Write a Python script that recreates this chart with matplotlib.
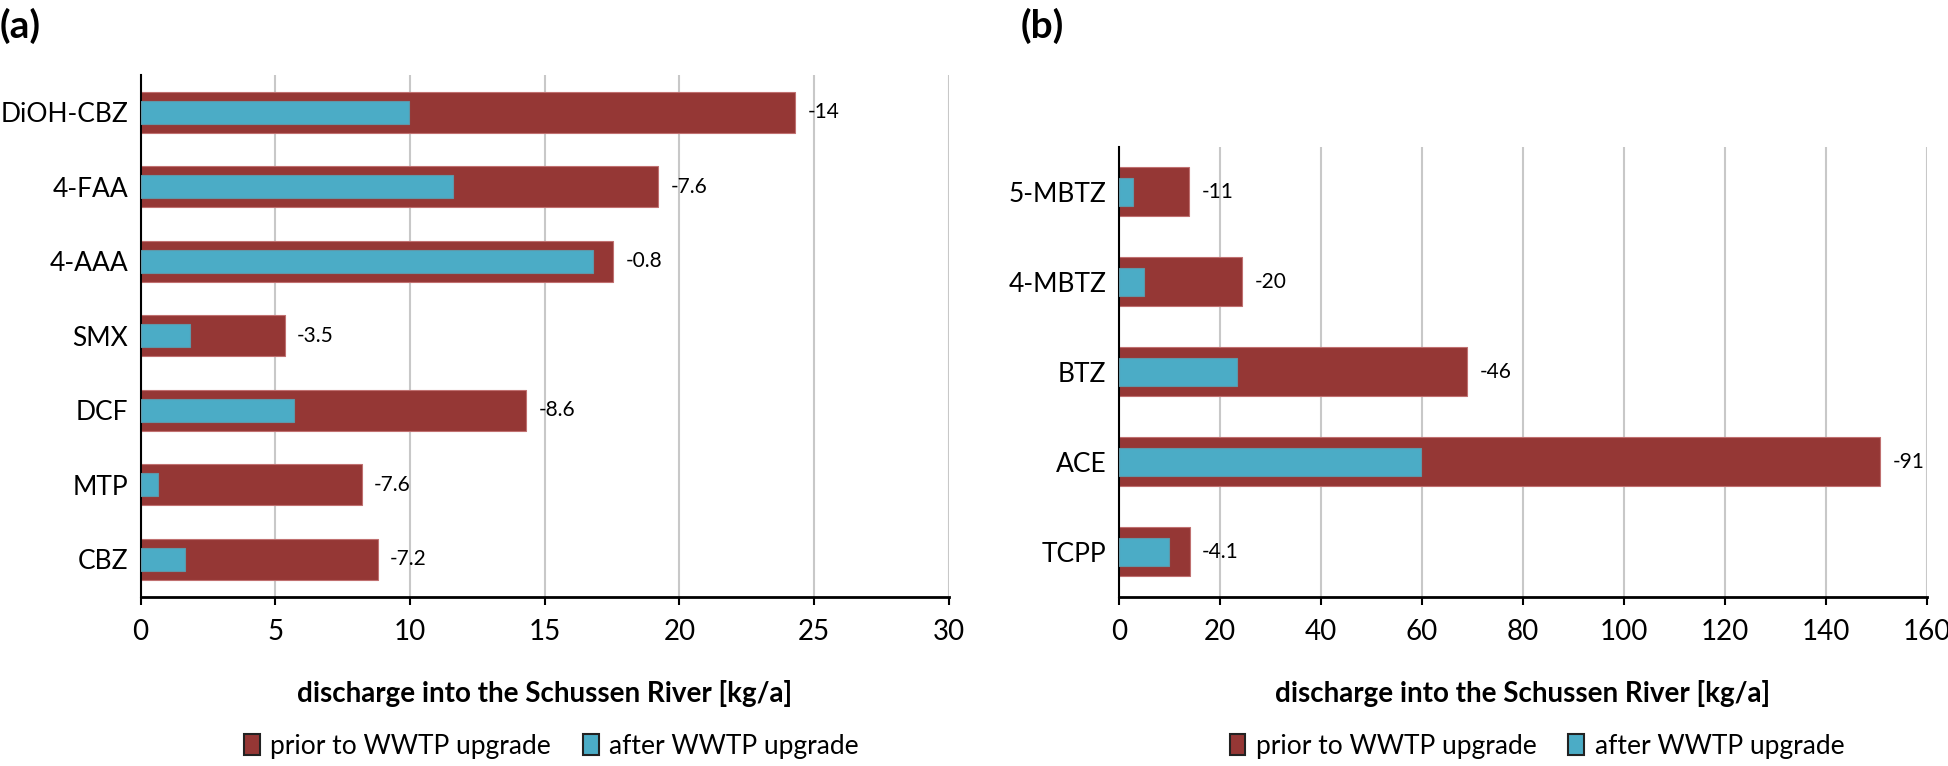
import matplotlib.pyplot as plt
from matplotlib.patches import Patch

plt.rcParams['font.family'] = ['Lato', 'DejaVu Sans']

# panel (a)
cats_a = ["DiOH-CBZ", "4-FAA", "4-AAA", "SMX", "DCF", "MTP", "CBZ"]
prior_a = [24.3, 19.2, 17.55, 5.35, 14.3, 8.2, 8.8]
after_a = [9.95, 11.6, 16.8, 1.85, 5.7, 0.65, 1.65]
diff_a = ["-14", "-7.6", "-0.8", "-3.5", "-8.6", "-7.6", "-7.2"]
ticks_a = [0, 5, 10, 15, 20, 25, 30]

# panel (b)
cats_b = ["5-MBTZ", "4-MBTZ", "BTZ", "ACE", "TCPP"]
prior_b = [13.9, 24.4, 69.0, 150.7, 14.0]
after_b = [2.8, 4.9, 23.3, 59.8, 10.0]
diff_b = ["-11", "-20", "-46", "-91", "-4.1"]
ticks_b = [0, 20, 40, 60, 80, 100, 120, 140, 160]

RED = "#953735"
BLUE = "#4bacc6"

fig = plt.figure(figsize=(19.48, 7.66), dpi=100)
ax_a = fig.add_axes([0.0722, 0.221, 0.4148, 0.681])
ax_b = fig.add_axes([0.5744, 0.221, 0.4148, 0.5875])


def draw(ax, cats, prior, after, diffs, ticks, xmax, leg_x):
    n = len(cats)
    ypos = list(range(n))
    ax.barh(ypos, prior, height=0.55, color=RED, edgecolor="#c07070", lw=0.8, zorder=2)
    ax.barh(ypos, after, height=0.31, color=BLUE, edgecolor="#5f97a8", lw=0.8, zorder=3)
    for y, p, d in zip(ypos, prior, diffs):
        ax.annotate(d, (p, y), xytext=(9, 0), textcoords="offset points",
                    va="center", ha="left", fontsize=15)
    ax.set_ylim(n - 0.5, -0.5)
    ax.set_xlim(0, xmax)
    ax.set_yticks(ypos)
    ax.set_yticklabels(cats, fontsize=19)
    ax.set_xticks(ticks)
    ax.set_xticklabels([str(t) for t in ticks], fontsize=20)
    ax.tick_params(axis="y", length=0, pad=9)
    ax.tick_params(axis="x", length=6, width=1.5, pad=10, direction="out")
    ax.grid(axis="x", color="#c8c8c8", lw=1.5, zorder=0)
    ax.set_axisbelow(True)
    for s in ["top", "right"]:
        ax.spines[s].set_visible(False)
    ax.spines["left"].set_linewidth(1.5)
    ax.spines["bottom"].set_linewidth(2)
    ax.set_xlabel("discharge into the Schussen River [kg/a]", fontsize=20,
                  fontweight="bold")
    # put the axis title at the same height in both panels (figure coords)
    b = ax.get_position()
    ax.xaxis.set_label_coords(0.5, (0.094 - b.y0) / b.height)
    ax.xaxis.label.set_va("center")
    handles = [Patch(facecolor=RED, edgecolor="#222222", lw=1.5),
               Patch(facecolor=BLUE, edgecolor="#222222", lw=1.5)]
    ax.legend(handles, ["prior to WWTP upgrade", "after WWTP upgrade"],
              loc="center", bbox_to_anchor=(leg_x, 0.026),
              bbox_transform=fig.transFigure, ncol=2,
              frameon=False, fontsize=19, handlelength=0.6, handleheight=0.8,
              handletextpad=0.4, columnspacing=1.2, borderpad=0)


draw(ax_a, cats_a, prior_a, after_a, diff_a, ticks_a, 30, 0.283)
draw(ax_b, cats_b, prior_b, after_b, diff_b, ticks_b, 160, 0.789)

fig.text(0.0, 0.99, "(a)", fontsize=28, fontweight="bold", va="top", ha="left")
fig.text(0.524, 0.99, "(b)", fontsize=28, fontweight="bold", va="top", ha="left")

plt.savefig("out.png", dpi=100)
